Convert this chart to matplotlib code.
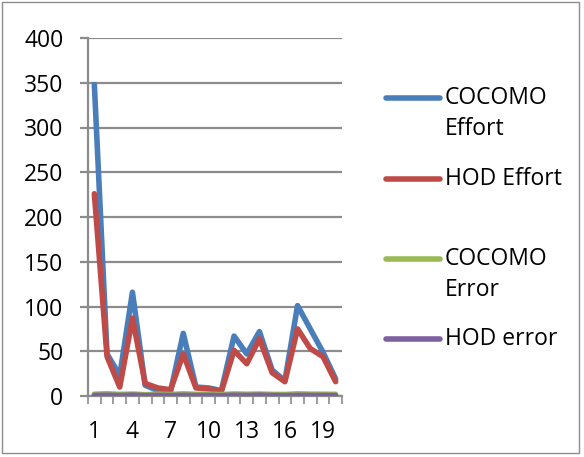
import numpy as np
import matplotlib.pyplot as plt
from matplotlib.lines import Line2D
from matplotlib.patches import Rectangle

plt.rcParams['font.family'] = ['Open Sans', 'DejaVu Sans']

# data
projects = list(range(1, 21))
cocomo_effort = [348, 47, 23, 116, 12, 6, 5, 70, 10, 9, 6, 67, 47, 72, 29, 17, 101, 75, 49, 19]
hod_effort = [226, 44, 10, 87, 14, 9, 7, 47, 9, 8, 5, 51, 36, 64, 26, 16, 75, 53, 44, 16]
cocomo_error = [2.0, 2.5, 1.8, 2.2, 1.5, 2.0, 1.7, 2.4, 1.9, 2.1, 1.6, 2.3, 2.0, 2.2, 1.8, 1.7, 2.4, 2.1, 2.0, 1.9]
hod_error = [0.6, 0.8, 0.5, 0.9, 0.4, 0.6, 0.5, 0.7, 0.5, 0.6, 0.4, 0.8, 0.6, 0.9, 0.5, 0.4, 0.7, 0.6, 0.6, 0.5]
labels = [['COCOMO', 'Effort'], ['HOD Effort'], ['COCOMO', 'Error'], ['HOD error']]
colors = ['#4A7EBB', '#BE4B48', '#98B954', '#7D60A0']

fs = 16.5
fig = plt.figure(figsize=(5.84, 4.57), dpi=100)
ax = fig.add_axes([88/584, 1 - 396/457, 254/584, 358/457])

series = [cocomo_effort, hod_effort, cocomo_error, hod_error]
for vals, c in zip(series, colors):
    ax.plot(projects, vals, color=c, lw=4, solid_capstyle='round', solid_joinstyle='round', zorder=3)

grid_c = '#8c8c8c'
ax.set_xlim(0.5, 20.5)
ax.set_ylim(0, 400)
ax.set_yticks(np.arange(0, 401, 50))
ax.yaxis.grid(True, color=grid_c, lw=1.6)
ax.set_axisbelow(True)
ax.set_xticks(projects[::3])
ax.set_xticks(np.arange(0.5, 21, 1), minor=True)
ax.tick_params(axis='x', which='major', length=0, pad=17, labelsize=fs)
ax.tick_params(axis='x', which='minor', length=5.8, width=1.2, color=grid_c)
ax.tick_params(axis='y', length=5.8, width=1.6, color=grid_c, pad=12, labelsize=fs)
for s in ['top', 'right']:
    ax.spines[s].set_visible(False)
for s in ['left', 'bottom']:
    ax.spines[s].set_color(grid_c)
    ax.spines[s].set_linewidth(1.6)

# legend, Excel-style spacing
leg_y = [98, 179, 259, 339]
for lab, c, y in zip(labels, colors, leg_y):
    fy = 1 - y / 457
    fig.add_artist(Line2D([386/584, 440/584], [fy, fy], color=c, lw=4,
                          solid_capstyle='round', transform=fig.transFigure))
    for k, part in enumerate(lab):
        fig.text(445/584, 1 - (y + 31 * k) / 457, part, fontsize=fs,
                 va='center', ha='left')

fig.add_artist(Rectangle((2/584, 4/457), 577/584, 451/457, transform=fig.transFigure,
                         fill=False, edgecolor='#8c8c8c', lw=1))

fig.savefig('out.png', dpi=100)
